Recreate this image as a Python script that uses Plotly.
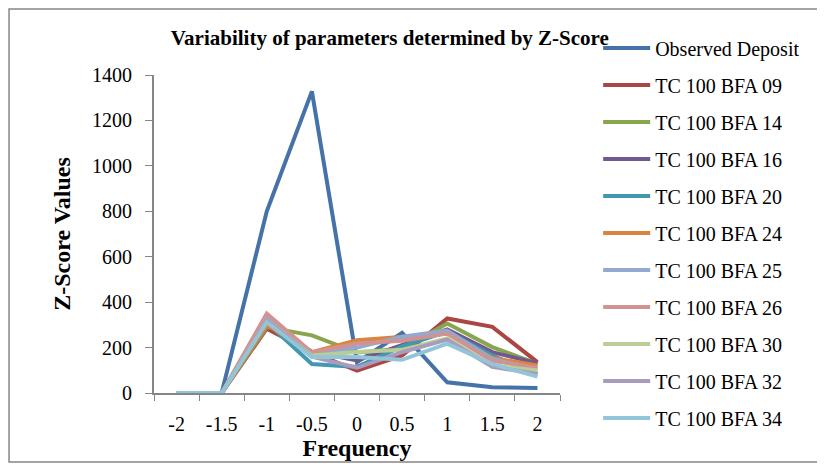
import plotly.graph_objects as go

# categorias do eixo x
frequencia = ["-2", "-1.5", "-1", "-0.5", "0", "0.5", "1", "1.5", "2"]

observed_deposit = [0, 0, 800, 1328, 136, 265, 47, 25, 22]
bfa_09 = [0, 0, 283, 180, 98, 165, 328, 291, 136]
bfa_14 = [0, 0, 290, 254, 178, 195, 306, 202, 128]
bfa_16 = [0, 0, 300, 182, 143, 210, 280, 180, 131]
bfa_20 = [0, 0, 310, 128, 115, 205, 270, 165, 84]
bfa_24 = [0, 0, 300, 180, 232, 245, 262, 154, 121]
bfa_25 = [0, 0, 330, 170, 200, 248, 275, 150, 105]
bfa_26 = [0, 0, 350, 178, 218, 230, 262, 142, 111]
bfa_30 = [0, 0, 320, 165, 180, 190, 240, 121, 99]
bfa_32 = [0, 0, 320, 160, 111, 180, 235, 115, 84]
bfa_34 = [0, 0, 312, 158, 158, 146, 217, 127, 72]

series = [
    ("Observed Deposit", observed_deposit, "#4572A7"),
    ("TC 100 BFA 09", bfa_09, "#AA4643"),
    ("TC 100 BFA 14", bfa_14, "#89A54E"),
    ("TC 100 BFA 16", bfa_16, "#71588F"),
    ("TC 100 BFA 20", bfa_20, "#4198AF"),
    ("TC 100 BFA 24", bfa_24, "#DB843D"),
    ("TC 100 BFA 25", bfa_25, "#93A9CF"),
    ("TC 100 BFA 26", bfa_26, "#D19392"),
    ("TC 100 BFA 30", bfa_30, "#B9CD96"),
    ("TC 100 BFA 32", bfa_32, "#A99BBD"),
    ("TC 100 BFA 34", bfa_34, "#92C5D8"),
]

fonte = "Liberation Serif, Times New Roman, serif"

fig = go.Figure()
for nome, valores, cor in series:
    fig.add_trace(go.Scatter(
        x=frequencia,
        y=valores,
        name=nome,
        mode="lines",
        legendgroup=nome,
        line=dict(color=cor, width=4)
    ))

# a página tem margem de 8px no body, então a figura é um pouco menor
fig.update_layout(
    width=817,
    height=456,
    paper_bgcolor="white",
    plot_bgcolor="white",
    font=dict(family=fonte, size=20, color="black"),
    title=dict(
        text="<b>Variability of parameters determined by Z-Score</b>",
        xref="paper", x=0.581, xanchor="center",
        y=0.934, yanchor="middle",
        font=dict(family=fonte, size=21, color="black")
    ),
    xaxis=dict(
        type="category",
        range=[-0.5, 8.5],
        tickson="boundaries",
        ticks="outside",
        ticklen=6,
        tickcolor="#868686",
        ticklabelstandoff=12,
        showline=True,
        linecolor="#868686",
        linewidth=2,
        showgrid=False,
        automargin=False,
        title=dict(text="<b>Frequency</b>", standoff=2),
    ),
    yaxis=dict(
        range=[0, 1400],
        dtick=200,
        ticks="outside",
        ticklen=7,
        tickcolor="#868686",
        ticklabelstandoff=9,
        showline=True,
        linecolor="#868686",
        linewidth=2,
        showgrid=False,
        zeroline=False,
        automargin=False,
        title=dict(text="<b>Z-Score Values</b>", standoff=15),
    ),
    legend=dict(
        x=1.094, xanchor="left",
        y=1.146, yanchor="top",
        tracegroupgap=8,
        itemwidth=47,
        maxheight=450,
        font=dict(family=fonte, size=20),
        bgcolor="rgba(0,0,0,0)"
    ),
    margin=dict(l=146, r=265, t=67, b=71),
    showlegend=True,
)

# moldura externa do gráfico
fig.add_shape(
    type="rect", xref="paper", yref="paper",
    x0=-0.357, x1=1.7, y0=-0.217, y1=1.2075,
    line=dict(color="#868686", width=1.5),
    layer="below"
)

fig.write_html("out.html")
